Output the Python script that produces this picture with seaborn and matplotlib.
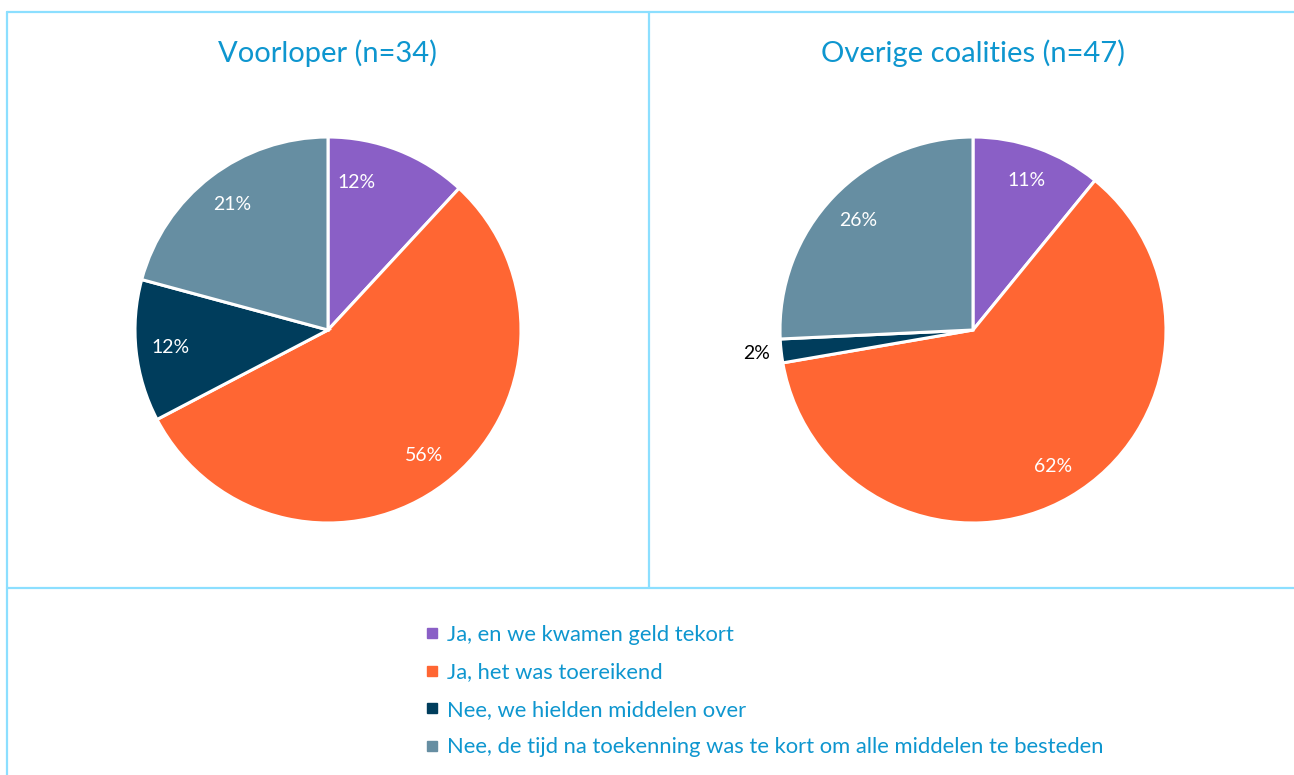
import matplotlib
matplotlib.use("Agg")
import matplotlib.pyplot as plt
from matplotlib.lines import Line2D
import seaborn as sns

categories = [
    "Ja, en we kwamen geld tekort",
    "Ja, het was toereikend",
    "Nee, we hielden middelen over",
    "Nee, de tijd na toekenning was te kort om alle middelen te besteden",
]
titles = ["Voorloper (n=34)", "Overige coalities (n=47)"]
voorloper = [12, 56, 12, 21]
overige = [11, 62, 2, 26]
colors = ["#8A5FC6", "#FF6633", "#003D5C", "#668EA2"]

sns.set_theme(style="white")
plt.rcParams["font.family"] = ["Lato", "DejaVu Sans"]

W, H = 1294, 775
fig = plt.figure(figsize=(W / 100, H / 100), dpi=100)
fig.patch.set_facecolor("white")

title_color = "#0E96CF"
border = "#8CDFFF"

def px_axes(cx, cy, r):
    half = r * 1.25
    return fig.add_axes([(cx - half) / W, 1 - (cy + half) / H, 2 * half / W, 2 * half / H])

centers = [(328, 330), (973, 330)]
R = 193
for k, ((cx, cy), vals, title) in enumerate(zip(centers, [voorloper, overige], titles)):
    ax = px_axes(cx, cy, R)
    wedges, texts, autotexts = ax.pie(
        vals, colors=colors, startangle=90, counterclock=False,
        autopct=lambda p: "", pctdistance=0.82,
        wedgeprops=dict(edgecolor="white", linewidth=2.2),
    )
    for i, (at, v) in enumerate(zip(autotexts, vals)):
        at.set_text(f"{v}%")
        at.set_fontsize(14)
        x, y = at.get_position()
        if v < 5:
            f = 1.13 / 0.82
            at.set_position((x * f, y * f))
            at.set_color("black")
        else:
            at.set_color("white")
            if k == 0 and i == 0:
                # label placed nearer the top in the original
                at.set_position((x - 0.15, y))
    ax.set_xlim(-1.25, 1.25)
    ax.set_ylim(-1.25, 1.25)
    ax.set_aspect("equal")
    ax.axis("off")
    fig.text(cx / W, 1 - 53 / H, title, ha="center", va="center",
             fontsize=21, color=title_color)

# frame lines
def fline(x0, y0, x1, y1):
    fig.add_artist(Line2D([x0 / W, x1 / W], [1 - y0 / H, 1 - y1 / H],
                          color=border, linewidth=1.6, transform=fig.transFigure))

fline(7, 12, W, 12)
fline(7, 12, 7, H)
fline(649, 12, 649, 588)
fline(7, 588, W, 588)

handles = [Line2D([], [], marker="s", linestyle="none", markersize=7,
                  markerfacecolor=c, markeredgecolor=c) for c in colors]
leg = fig.legend(handles, categories, loc="upper left",
                 bbox_to_anchor=(418 / W, 1 - 616 / H), frameon=False,
                 fontsize=15.8, labelcolor=title_color, handlelength=0.5,
                 handletextpad=0.4, labelspacing=0.8, borderaxespad=0)

fig.savefig("out.png", dpi=100, facecolor="white")
